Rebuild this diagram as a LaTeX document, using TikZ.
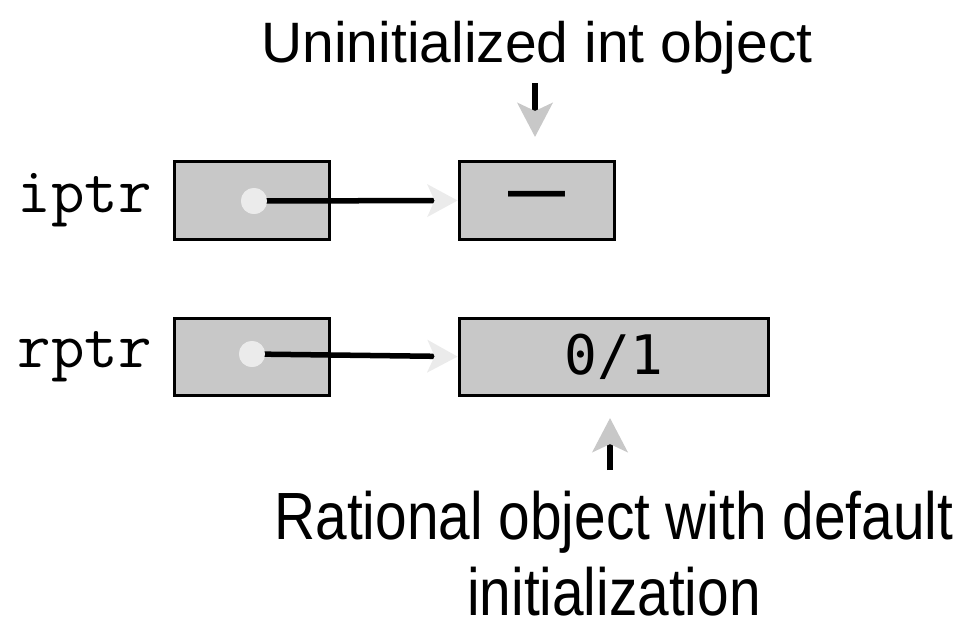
\documentclass[tikz,border=0pt]{standalone}
\usepackage{fontspec}
\setmainfont{Liberation Sans}
\newfontfamily\valuefont{DejaVu Sans Mono}
\usetikzlibrary{positioning, arrows.meta}

\definecolor{cellgray}{RGB}{200,200,200}
\definecolor{dotgray}{RGB}{235,235,235}

\tikzset{
	cell/.style={draw, line width=0.03cm, fill=cellgray, minimum width=1.54cm, minimum height=0.77cm, inner sep=0pt},
	ptrdot/.style={circle, fill=dotgray, minimum size=0.26cm, inner sep=0pt},
	pointer/.style={line width=0.055cm, -{Stealth[length=0.3cm, width=0.32cm, inset=0.07cm, color=dotgray]}},
	callout/.style={line width=0.06cm, -{Stealth[length=0.34cm, width=0.35cm, inset=0.08cm, color=cellgray]}},
	varname/.style={inner sep=0pt, font=\ttfamily\fontsize{18.5}{22}\selectfont},
}

\begin{document}
\begin{tikzpicture}[x=0.01cm, y=-0.01cm, node distance=1.27cm]
	\useasboundingbox (0,0) rectangle (962,621);
	% pointer cells and the objects they point to
	\node (iptrcell) [cell] at (252,200.5) {};
	\node (intcell) [cell, right=of iptrcell, minimum width=1.55cm] {\bfseries\fontsize{16.2}{19}\selectfont ---};
	\node (rptrcell) [cell, below=0.76cm of iptrcell] {};
	\node (ratcell) [cell, right=of rptrcell, minimum width=3.09cm] {\valuefont\fontsize{15.5}{19}\selectfont 0/1};
	\node (iptr) [varname, left=0.21cm of iptrcell] {iptr};
	\node (rptr) [varname, left=0.21cm of rptrcell] {rptr};
	\node (idot) [ptrdot] at (254,201) {};
	\node (rdot) [ptrdot] at (252,354) {};
	\draw[pointer] (idot.center) -- (intcell.west);
	\draw[pointer] (rdot.center) -- (rptrcell.east -| ratcell.west);
	\node (idot2) [ptrdot] at (idot) {};
	\node (rdot2) [ptrdot] at (rdot) {};
	% captions
	\node (uninit) [anchor=base, inner sep=0pt, font=\fontsize{16.2}{19}\selectfont] at (537,62) {Uninitialized int object};
	\node (ratdef) [anchor=base, inner sep=0pt, align=center, font=\fontsize{19}{21.6}\selectfont] at (614,615)
		{\scalebox{0.85}[1]{Rational object with default}\\ \scalebox{0.85}[1]{initialization}};
	\coordinate (utop) at (535,83);
	\coordinate (utip) at (535,137);
	\coordinate (rbot) at (610,470);
	\coordinate (rtip) at (610,418);
	\draw[callout] (utop) -- (utip);
	\draw[callout] (rbot) -- (rtip);
\end{tikzpicture}
\end{document}
